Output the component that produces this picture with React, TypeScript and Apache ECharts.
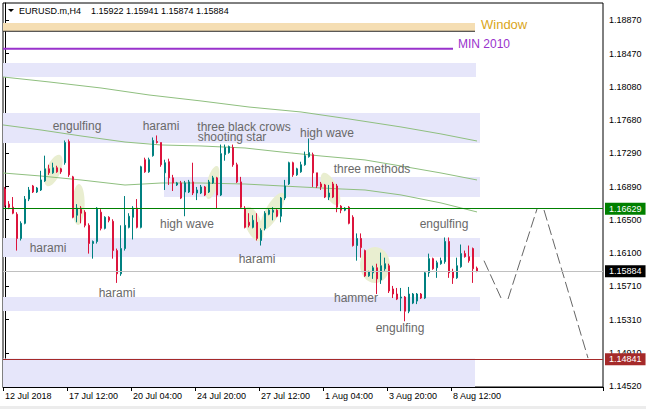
import React, { useEffect, useRef } from "react";
import * as echarts from "echarts";

const FONT = "'Liberation Sans', Arial, sans-serif";

const symbolTitle = "EURUSD.m,H4";
const lastQuote = "1.15922 1.15941 1.15874 1.15884";

const monthNames = ["Jan", "Feb", "Mar", "Apr", "May", "Jun", "Jul", "Aug", "Sep", "Oct", "Nov", "Dec"];
const firstBarUtc = Date.UTC(2018, 6, 12, 20, 0);
const slotCount = 150;

const xTickIndices = [0, 16, 32, 48, 64, 80, 96, 112];
const xTickLabels = ["12 Jul 2018", "17 Jul 12:00", "20 Jul 04:00", "24 Jul 20:00", "27 Jul 12:00", "1 Aug 04:00", "3 Aug 20:00", "8 Aug 12:00"];

const yTickValues = [1.1887, 1.1847, 1.1808, 1.1768, 1.1729, 1.1689, 1.165, 1.161, 1.1571, 1.1531, 1.1491, 1.1452];
const yMin = 1.1451;
const yMax = 1.19073;

// [open, close, low, high]
const candles: number[][] = [
  [1.16863, 1.16671, 1.16647, 1.16887],
  [1.16683, 1.16647, 1.16623, 1.16719],
  [1.16647, 1.16575, 1.16563, 1.16767],
  [1.16563, 1.16275, 1.16131, 1.16587],
  [1.16275, 1.16455, 1.16251, 1.16479],
  [1.16455, 1.16743, 1.16443, 1.16779],
  [1.16743, 1.16851, 1.16719, 1.16887],
  [1.16899, 1.16827, 1.16815, 1.16911],
  [1.16827, 1.16875, 1.16815, 1.16887],
  [1.16851, 1.16971, 1.16839, 1.17079],
  [1.16959, 1.17103, 1.16947, 1.17259],
  [1.17103, 1.17055, 1.17031, 1.17151],
  [1.17055, 1.17115, 1.17043, 1.17175],
  [1.17115, 1.17067, 1.17055, 1.17139],
  [1.17103, 1.17067, 1.17043, 1.17115],
  [1.17175, 1.17415, 1.17151, 1.17439],
  [1.17427, 1.17031, 1.17007, 1.17451],
  [1.17007, 1.16527, 1.16515, 1.17019],
  [1.16551, 1.16635, 1.16467, 1.16683],
  [1.16635, 1.16575, 1.16455, 1.16659],
  [1.16587, 1.16431, 1.16407, 1.16611],
  [1.16431, 1.16215, 1.16095, 1.16455],
  [1.16215, 1.16239, 1.16035, 1.16251],
  [1.16239, 1.16635, 1.16215, 1.16647],
  [1.16587, 1.16395, 1.16371, 1.16623],
  [1.16395, 1.16527, 1.16383, 1.16539],
  [1.16527, 1.16491, 1.16467, 1.16539],
  [1.16479, 1.16131, 1.16035, 1.16503],
  [1.16131, 1.15855, 1.15747, 1.16155],
  [1.15855, 1.16155, 1.15831, 1.16431],
  [1.16155, 1.16431, 1.16131, 1.16779],
  [1.16407, 1.16539, 1.16395, 1.16575],
  [1.16527, 1.16635, 1.16263, 1.16659],
  [1.16635, 1.16407, 1.16395, 1.16743],
  [1.16407, 1.17127, 1.16395, 1.17139],
  [1.17211, 1.17067, 1.17055, 1.17235],
  [1.17067, 1.17211, 1.17055, 1.17235],
  [1.17259, 1.17439, 1.17247, 1.17475],
  [1.17427, 1.17415, 1.17403, 1.17499],
  [1.17415, 1.17151, 1.17127, 1.17415],
  [1.17055, 1.17175, 1.16851, 1.17211],
  [1.17187, 1.16995, 1.16911, 1.17223],
  [1.16995, 1.16935, 1.16839, 1.17031],
  [1.16911, 1.16935, 1.16899, 1.16947],
  [1.16935, 1.16755, 1.16743, 1.16959],
  [1.16827, 1.16935, 1.16539, 1.16959],
  [1.16827, 1.16947, 1.16815, 1.16971],
  [1.16947, 1.16815, 1.16791, 1.17175],
  [1.16815, 1.16851, 1.16731, 1.16887],
  [1.16815, 1.16887, 1.16803, 1.16911],
  [1.16887, 1.16791, 1.16779, 1.16899],
  [1.16827, 1.16947, 1.16815, 1.16971],
  [1.16935, 1.16995, 1.16923, 1.17019],
  [1.16995, 1.16791, 1.16635, 1.17007],
  [1.16791, 1.17283, 1.16779, 1.17391],
  [1.17271, 1.17355, 1.17199, 1.17391],
  [1.17295, 1.17367, 1.17283, 1.17379],
  [1.17355, 1.17151, 1.17127, 1.17391],
  [1.17151, 1.16947, 1.16935, 1.17175],
  [1.16947, 1.16647, 1.16635, 1.17007],
  [1.16635, 1.16407, 1.16395, 1.16659],
  [1.16467, 1.16431, 1.16407, 1.16575],
  [1.16407, 1.16491, 1.16395, 1.16551],
  [1.16467, 1.16275, 1.16251, 1.16575],
  [1.16251, 1.16371, 1.16191, 1.16395],
  [1.16395, 1.16575, 1.16371, 1.16599],
  [1.16563, 1.16611, 1.16551, 1.16623],
  [1.16587, 1.16611, 1.16491, 1.16647],
  [1.16611, 1.16539, 1.16527, 1.16623],
  [1.16539, 1.16755, 1.16467, 1.16767],
  [1.16755, 1.16899, 1.16731, 1.16971],
  [1.16923, 1.17175, 1.16911, 1.17187],
  [1.17175, 1.17031, 1.17007, 1.17187],
  [1.17031, 1.17103, 1.17019, 1.17115],
  [1.17067, 1.17151, 1.17055, 1.17187],
  [1.17151, 1.17259, 1.17139, 1.17307],
  [1.17247, 1.17295, 1.17235, 1.17463],
  [1.17271, 1.17055, 1.16887, 1.17295],
  [1.17055, 1.16899, 1.16875, 1.17055],
  [1.16923, 1.16887, 1.16851, 1.16947],
  [1.16911, 1.16767, 1.16755, 1.16923],
  [1.16767, 1.16815, 1.16731, 1.16911],
  [1.16923, 1.16767, 1.16755, 1.16947],
  [1.16899, 1.16647, 1.16587, 1.16923],
  [1.16659, 1.16611, 1.16575, 1.16671],
  [1.16611, 1.16635, 1.16599, 1.16647],
  [1.16647, 1.16455, 1.16443, 1.16659],
  [1.16527, 1.16191, 1.16179, 1.16551],
  [1.16191, 1.16275, 1.16011, 1.16335],
  [1.16275, 1.16167, 1.16047, 1.16335],
  [1.16131, 1.15831, 1.15819, 1.16143],
  [1.15831, 1.15879, 1.15819, 1.15891],
  [1.15867, 1.15927, 1.15795, 1.15951],
  [1.15927, 1.15795, 1.15615, 1.15975],
  [1.15783, 1.15951, 1.15735, 1.16107],
  [1.15915, 1.15975, 1.15891, 1.16047],
  [1.15951, 1.15651, 1.15627, 1.15975],
  [1.15675, 1.15615, 1.15567, 1.15711],
  [1.15615, 1.15555, 1.15543, 1.15687],
  [1.15567, 1.15579, 1.15411, 1.15687],
  [1.15579, 1.15411, 1.15291, 1.15591],
  [1.15411, 1.15615, 1.15387, 1.15699],
  [1.15507, 1.15615, 1.15495, 1.15627],
  [1.15531, 1.15615, 1.15495, 1.15627],
  [1.15615, 1.15567, 1.15555, 1.15627],
  [1.15567, 1.15867, 1.15555, 1.15879],
  [1.15867, 1.16035, 1.15819, 1.16095],
  [1.16035, 1.15915, 1.15903, 1.16047],
  [1.15927, 1.15987, 1.15807, 1.16011],
  [1.15975, 1.16011, 1.15963, 1.16047],
  [1.15999, 1.16239, 1.15975, 1.16287],
  [1.16239, 1.15867, 1.15807, 1.16287],
  [1.15879, 1.15807, 1.15735, 1.15915],
  [1.15807, 1.15951, 1.15795, 1.16047],
  [1.15939, 1.16095, 1.15927, 1.16203],
  [1.16095, 1.16059, 1.16047, 1.16131],
  [1.16059, 1.16011, 1.15987, 1.16191],
  [1.16155, 1.15915, 1.15747, 1.16167],
  [1.15922, 1.15884, 1.15874, 1.15941],
];

// moving averages, [bar, price]
const maSlow: number[][] = [
  [-0.5, 1.18194], [11, 1.18135], [24, 1.18063], [36, 1.1798], [49, 1.17909], [61, 1.17837],
  [74, 1.17778], [86, 1.17695], [99, 1.176], [109, 1.17517], [118, 1.17433],
];
const maMid: number[][] = [
  [-0.5, 1.17624], [9, 1.17564], [19, 1.17493], [30, 1.17421], [39, 1.17386], [49, 1.17374],
  [60, 1.1735], [69, 1.17303], [79, 1.17255], [90, 1.17208], [99, 1.17136], [109, 1.17053], [118, 1.1697],
];
const maFast: number[][] = [
  [-0.5, 1.17053], [9, 1.17017], [19, 1.1697], [30, 1.1691], [39, 1.16934], [49, 1.16934],
  [60, 1.16922], [74, 1.16887], [84, 1.16863], [90, 1.16851], [99, 1.16792], [109, 1.16697], [118, 1.1659],
];

// horizontal price levels
const levelPrices = [1.16629, 1.15884, 1.14841];

// zones: [startBar, topPrice, endBar, bottomPrice]
const lavenderZones: number[][] = [
  [-0.5, 1.1836, 117.75, 1.18194],
  [-0.5, 1.17766, 118.75, 1.1741],
  [39.75, 1.17006, 118.75, 1.16768],
  [-0.5, 1.16281, 118.75, 1.16055],
  [-0.5, 1.1558, 118.75, 1.15413],
  [-0.5, 1.1485, 117.5, 1.1451],
];
const windowZone: number[][] = [[-0.5, 1.18836, 117.5, 1.18737]];

// segments: [startBar, price, endBar]
const windowEdge: number[][] = [[-0.5, 1.18737, 117.5]];
const min2010Line: number[][] = [[-0.5, 1.1853, 112]];

// ellipses: [bar1, price1, bar2, price2, minor/major ratio]
const patternEllipses: number[][] = [
  [10.5, 1.16899, 13.75, 1.17267, 0.42],
  [18.5, 1.16922, 18.25, 1.16435, 0.3],
  [50.75, 1.16744, 53, 1.17136, 0.32],
  [60.5, 1.16649, 63.75, 1.16245, 0.44],
  [64.25, 1.16376, 69.5, 1.16815, 0.33],
  [79.5, 1.17053, 83.25, 1.16673, 0.4],
  [92.5, 1.16174, 92.5, 1.15746, 0.83],
];

// pattern labels: [bar, price, text]
const patternLabels: [number, number, string][] = [
  [18, 1.17612, "engulfing"],
  [39, 1.17612, "harami"],
  [59.75, 1.176, "three black crows"],
  [56.75, 1.17481, "shooting star"],
  [80.5, 1.17528, "high wave"],
  [91.75, 1.17101, "three methods"],
  [45.5, 1.16447, "high wave"],
  [10.75, 1.16162, "harami"],
  [63, 1.16031, "harami"],
  [28, 1.15627, "harami"],
  [109.75, 1.16447, "engulfing"],
  [87.75, 1.15568, "hammer"],
  [98.75, 1.15211, "engulfing"],
];

// object labels: [bar, price, text]
const windowLabel: [number, number, string][] = [[119, 1.18812, "Window"]];
const minLabel: [number, number, string][] = [[113.25, 1.18586, "MIN 2010"]];

// projected path: [bar1, price1, bar2, price2]
const projectionPath: number[][] = [
  [119.75, 1.16011, 124, 1.15568],
  [125.75, 1.15556, 133, 1.16625],
  [134.75, 1.16613, 145.75, 1.14854],
];

function buildCategories(): string[] {
  const out: string[] = [];
  let t = firstBarUtc;
  while (out.length < slotCount) {
    const d = new Date(t);
    const wd = d.getUTCDay();
    if (wd !== 0 && wd !== 6) {
      const hh = String(d.getUTCHours()).padStart(2, "0");
      out.push(`${d.getUTCDate()} ${monthNames[d.getUTCMonth()]} ${hh}:00`);
    }
    t += 4 * 3600 * 1000;
  }
  return out;
}

function rectSeries(rows: number[][], fill: string, z: number): any {
  return {
    type: "custom",
    xAxisIndex: 1,
    yAxisIndex: 0,
    z,
    silent: true,
    clip: false,
    data: rows,
    renderItem: (params: any, api: any) => {
      const r = rows[params.dataIndex];
      const a = api.coord([r[0], r[1]]);
      const c = api.coord([r[2], r[3]]);
      return {
        type: "rect",
        shape: { x: a[0], y: a[1], width: c[0] - a[0], height: c[1] - a[1] },
        style: { fill },
      };
    },
  };
}

function segmentSeries(rows: number[][], stroke: string, width: number, z: number): any {
  return {
    type: "custom",
    xAxisIndex: 1,
    yAxisIndex: 0,
    z,
    silent: true,
    clip: false,
    data: rows,
    renderItem: (params: any, api: any) => {
      const r = rows[params.dataIndex];
      const a = api.coord([r[0], r[1]]);
      const c = api.coord([r[2], r[1]]);
      return {
        type: "line",
        shape: { x1: a[0], y1: a[1], x2: c[0], y2: c[1] },
        style: { stroke, lineWidth: width },
      };
    },
  };
}

function textSeries(rows: [number, number, string][], fill: string, size: number, align: string, z: number): any {
  return {
    type: "custom",
    xAxisIndex: 1,
    yAxisIndex: 0,
    z,
    silent: true,
    clip: false,
    data: rows.map((r) => [r[0], r[1]]),
    renderItem: (params: any, api: any) => {
      const r = rows[params.dataIndex];
      const p = api.coord([r[0], r[1]]);
      return {
        type: "text",
        x: p[0],
        y: p[1],
        style: {
          text: r[2],
          fill,
          fontSize: size,
          fontFamily: FONT,
          align,
          verticalAlign: "middle",
          textAlign: align,
          textVerticalAlign: "middle",
        },
      };
    },
  };
}

function priceTag(bg: string): any {
  return {
    show: true,
    position: "end",
    distance: 2,
    formatter: (p: any) => Number(p.value).toFixed(5),
    color: "#ffffff",
    backgroundColor: bg,
    padding: [2, 4, 1, 4],
    fontSize: 9,
    fontFamily: FONT,
  };
}

function buildOption(): any {
  const categories = buildCategories();
  const tickMap = new Map<number, string>();
  xTickIndices.forEach((idx, k) => tickMap.set(idx, xTickLabels[k]));
  const levelColors = ["#008000", "#c0c0c0", "#a52a2a"];
  const levelTags = ["#008000", "#000000", "#a52a2a"];

  return {
    animation: false,
    backgroundColor: "#ffffff",
    grid: {
      left: 3,
      right: 43,
      top: 3,
      bottom: 22,
      show: true,
      borderColor: "#000",
      borderWidth: 1,
      backgroundColor: "transparent",
    },
    graphic: [
      {
        type: "polygon",
        shape: { points: [[8, 9], [14, 9], [11, 12]] },
        style: { fill: "#000" },
        z: 10,
      },
      {
        type: "text",
        x: 19,
        y: 11,
        z: 10,
        style: { text: symbolTitle, fill: "#000", fontSize: 9, fontFamily: FONT, verticalAlign: "middle", textVerticalAlign: "middle" },
      },
      {
        type: "text",
        x: 91,
        y: 11,
        z: 10,
        style: { text: lastQuote, fill: "#000", fontSize: 9, fontFamily: FONT, verticalAlign: "middle", textVerticalAlign: "middle" },
      },
      {
        type: "rect",
        shape: { x: 0, y: 406, width: 646, height: 3 },
        style: { fill: "#ececec" },
      },
    ],
    xAxis: [
      {
        type: "category",
        data: categories,
        boundaryGap: true,
        axisLine: { show: true, lineStyle: { color: "#000" } },
        axisTick: {
          show: true,
          interval: (i: number) => tickMap.has(i),
          length: 4,
          lineStyle: { color: "#000" },
        },
        axisLabel: {
          interval: (i: number) => tickMap.has(i),
          formatter: (_v: string, i: number) => tickMap.get(i) || "",
          align: "left",
          margin: 4,
          color: "#000",
          fontSize: 9,
          fontFamily: FONT,
        },
        splitLine: { show: false },
      },
      { type: "value", min: -0.5, max: slotCount - 0.5, show: false },
    ],
    yAxis: {
      type: "value",
      position: "right",
      min: yMin,
      max: yMax,
      axisLine: { show: true, lineStyle: { color: "#000" } },
      axisTick: { show: true, customValues: yTickValues, length: 4, lineStyle: { color: "#000" } },
      axisLabel: {
        customValues: yTickValues,
        formatter: (v: number) => v.toFixed(5),
        margin: 6,
        color: "#000",
        fontSize: 9,
        fontFamily: FONT,
      },
      splitLine: { show: false },
    },
    series: [
      rectSeries(lavenderZones, "#e6e6fa", 1),
      rectSeries(windowZone, "#f5deb3", 1),
      segmentSeries(windowEdge, "#2a2a2a", 1, 1),
      segmentSeries(min2010Line, "#9932cc", 2, 1),
      {
        type: "custom",
        xAxisIndex: 1,
        yAxisIndex: 0,
        z: 1,
        silent: true,
        clip: false,
        data: patternEllipses,
        renderItem: (params: any, api: any) => {
          const r = patternEllipses[params.dataIndex];
          const a = api.coord([r[0], r[1]]);
          const c = api.coord([r[2], r[3]]);
          const dx = c[0] - a[0];
          const dy = c[1] - a[1];
          const half = Math.sqrt(dx * dx + dy * dy) / 2;
          const ang = Math.atan2(dy, dx);
          return {
            type: "ellipse",
            x: (a[0] + c[0]) / 2,
            y: (a[1] + c[1]) / 2,
            rotation: -ang,
            shape: { cx: 0, cy: 0, rx: half, ry: half * r[4] },
            style: { fill: "#e9eed0" },
          };
        },
      },
      ...[maSlow, maMid, maFast].map((d) => ({
        type: "line",
        xAxisIndex: 1,
        yAxisIndex: 0,
        z: 2,
        silent: true,
        showSymbol: false,
        symbol: "none",
        data: d,
        lineStyle: { color: "#8fbf7f", width: 1 },
      })),
      {
        type: "candlestick",
        xAxisIndex: 0,
        yAxisIndex: 0,
        z: 3,
        barWidth: 2,
        data: candles,
        itemStyle: {
          color: "#008080",
          color0: "#dc143c",
          borderColor: "#008080",
          borderColor0: "#dc143c",
          borderWidth: 1,
        },
        markLine: {
          silent: true,
          symbol: ["none", "none"],
          animation: false,
          precision: 5,
          data: levelPrices.map((v, k) => ({
            yAxis: v,
            lineStyle: { color: levelColors[k], width: 1, type: "solid" },
            label: priceTag(levelTags[k]),
          })),
        },
      },
      textSeries(patternLabels, "#696969", 12, "center", 4),
      textSeries(windowLabel, "#daa520", 13, "left", 4),
      textSeries(minLabel, "#9932cc", 12, "left", 4),
      {
        type: "custom",
        xAxisIndex: 1,
        yAxisIndex: 0,
        z: 4,
        silent: true,
        clip: false,
        data: projectionPath,
        renderItem: (params: any, api: any) => {
          const r = projectionPath[params.dataIndex];
          const a = api.coord([r[0], r[1]]);
          const c = api.coord([r[2], r[3]]);
          return {
            type: "line",
            shape: { x1: a[0], y1: a[1], x2: c[0], y2: c[1] },
            style: { stroke: "#666666", lineWidth: 1, lineDash: [11, 4] },
          };
        },
      },
    ],
  };
}

export default function App() {
  const ref = useRef<HTMLDivElement>(null);
  useEffect(() => {
    if (!ref.current) return;
    const chart = echarts.init(ref.current, null, { renderer: "svg" });
    chart.setOption(buildOption());
    return () => chart.dispose();
  }, []);
  return (
    <div
      ref={ref}
      style={{ position: "fixed", left: 0, top: 0, width: 646, height: 409, background: "#fff" }}
    />
  );
}
